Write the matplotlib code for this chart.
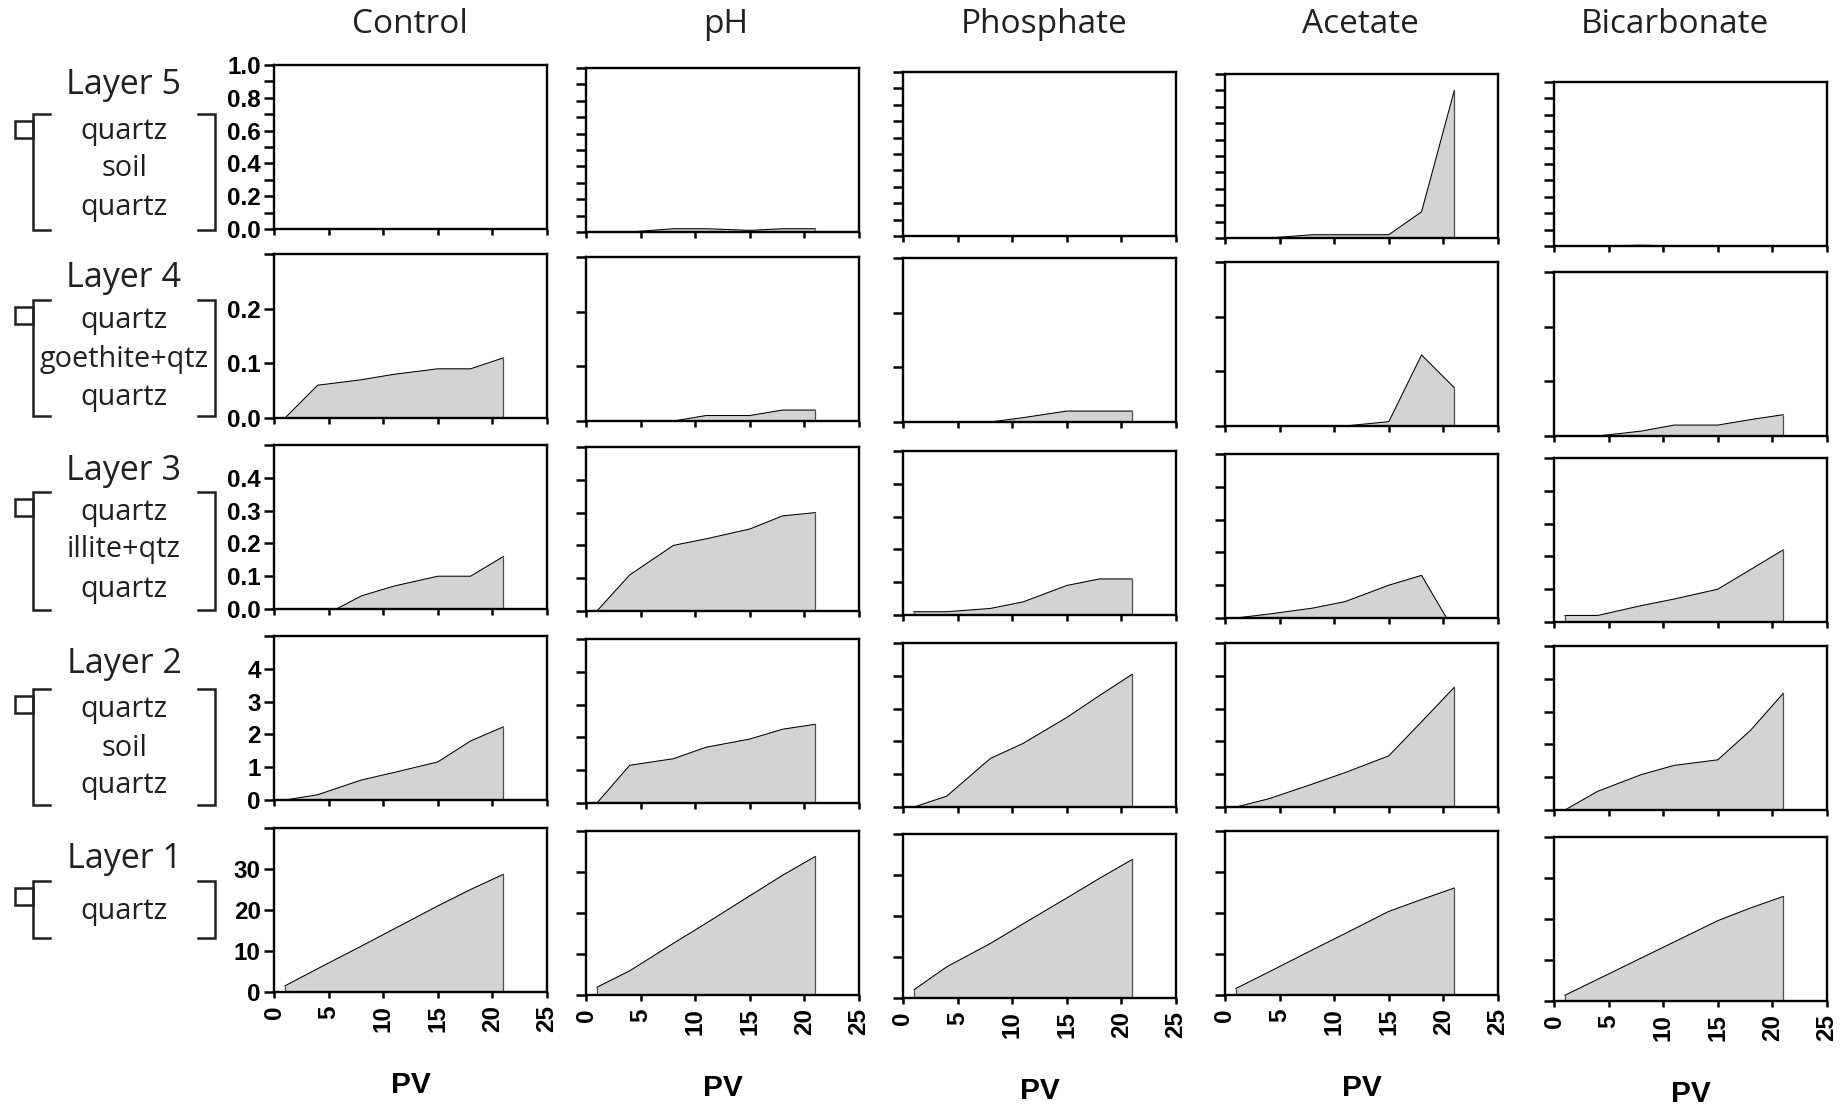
import numpy as np
import matplotlib
matplotlib.use('Agg')
import matplotlib.pyplot as plt
from matplotlib.lines import Line2D
from matplotlib.patches import Rectangle

W, H, DPI = 1846, 1110, 100

# ---------------- data ----------------
treatments = ['Control', 'pH', 'Phosphate', 'Acetate', 'Bicarbonate']
layer_names = ['Layer 5', 'Layer 4', 'Layer 3', 'Layer 2', 'Layer 1']
materials = [['quartz', 'soil', 'quartz'],
             ['quartz', 'goethite+qtz', 'quartz'],
             ['quartz', 'illite+qtz', 'quartz'],
             ['quartz', 'soil', 'quartz'],
             ['quartz']]
pv = [1, 4, 8, 11, 15, 18, 21]

layer5 = {'Control':     [0, 0, 0, 0, 0, 0, 0],
          'pH':          [0, 0, 0.02, 0.02, 0.01, 0.02, 0.02],
          'Phosphate':   [0, 0, 0, 0, 0, 0, 0],
          'Acetate':     [0, 0, 0.02, 0.02, 0.02, 0.16, 0.90],
          'Bicarbonate': [0, 0, 0.005, 0, 0, 0, 0]}
layer4 = {'Control':     [0, 0.06, 0.07, 0.08, 0.09, 0.09, 0.11],
          'pH':          [0, 0, 0, 0.01, 0.01, 0.02, 0.02],
          'Phosphate':   [0, 0, 0, 0.008, 0.02, 0.02, 0.02],
          'Acetate':     [0, 0, 0, 0, 0.008, 0.13, 0.07],
          'Bicarbonate': [0, 0, 0.009, 0.02, 0.02, 0.03, 0.039]}
layer3 = {'Control':     [0, -0.03, 0.04, 0.07, 0.10, 0.10, 0.16],
          'pH':          [0, 0.11, 0.20, 0.22, 0.25, 0.29, 0.30],
          'Phosphate':   [0.01, 0.01, 0.02, 0.04, 0.09, 0.11, 0.11],
          'Acetate':     [0, 0.012, 0.03, 0.05, 0.10, 0.13, -0.04],
          'Bicarbonate': [0.02, 0.02, 0.05, 0.07, 0.10, 0.16, 0.22]}
layer2 = {'Control':     [0, 0.16, 0.61, 0.84, 1.16, 1.8, 2.23],
          'pH':          [0, 1.15, 1.35, 1.7, 1.95, 2.25, 2.4],
          'Phosphate':   [0, 0.33, 1.48, 1.94, 2.73, 3.4, 4.05],
          'Acetate':     [0, 0.25, 0.7, 1.05, 1.56, 2.6, 3.65],
          'Bicarbonate': [0, 0.57, 1.08, 1.36, 1.53, 2.43, 3.56]}
layer1 = {'Control':     [1.5, 5.7, 11.2, 15.4, 21.0, 25.0, 28.7],
          'pH':          [1.9, 5.9, 12.6, 17.5, 24.2, 29.2, 33.8],
          'Phosphate':   [2.0, 7.6, 13.3, 18.1, 24.4, 29.2, 33.8],
          'Acetate':     [1.6, 5.6, 11.0, 15.0, 20.4, 23.3, 26.1],
          'Bicarbonate': [1.4, 5.3, 10.5, 14.4, 19.6, 22.7, 25.5]}
layers_data = [layer5, layer4, layer3, layer2, layer1]

y_ticks = [[0, .1, .2, .3, .4, .5, .6, .7, .8, .9, 1.0],
           [0, .1, .2, .3],
           [0, .1, .2, .3, .4, .5],
           [0, 1, 2, 3, 4, 5],
           [0, 10, 20, 30, 40]]
y_ticklabels = [['0.0', '', '0.2', '', '0.4', '', '0.6', '', '0.8', '', '1.0'],
                ['0.0', '0.1', '0.2', ''],
                ['0.0', '0.1', '0.2', '0.3', '0.4', ''],
                ['0', '1', '2', '3', '4', ''],
                ['0', '10', '20', '30', '']]
x_ticks = [0, 5, 10, 15, 20, 25]
x_ticklabels = ['0', '5', '10', '15', '20', '25']
x_label = 'PV'

# ---------------- layout (pixels) ----------------
col_left = [274, 586, 903, 1225, 1554]
ax_w, ax_h = 273, 164
col_tops = [[65, 254, 445, 636, 828],
            [68, 257, 447, 639, 831],
            [72, 258, 451, 643, 834],
            [74, 262, 454, 643, 831],
            [82, 272, 458, 646, 837]]
title_x = [410, 726, 1044, 1360, 1675]

FILL = '#d1d3d4'
TXT = '#231f20'
serif_font = 'Open Sans'
bold_font = 'Liberation Sans'

fig = plt.figure(figsize=(W / DPI, H / DPI), dpi=DPI)


def fx(x):
    return x / W


def fy(y):
    return 1 - y / H


for c, tr in enumerate(treatments):
    for r in range(5):
        top = col_tops[c][r]
        ax = fig.add_axes([fx(col_left[c]), fy(top + ax_h), ax_w / W, ax_h / H])
        vals = layers_data[r][tr]
        ax.fill_between(pv, vals, 0, facecolor=FILL, edgecolor='none', zorder=1)
        ax.plot(pv, vals, color='black', lw=0.75, zorder=2)
        ax.vlines([pv[0], pv[-1]], 0, [vals[0], vals[-1]], color='#4d4d4d', lw=0.9, zorder=2)
        ax.set_xlim(0, 25)
        ax.set_ylim(0, y_ticks[r][-1])
        ax.set_xticks(x_ticks)
        ax.set_yticks(y_ticks[r])
        if c == 0:
            ax.set_yticklabels(y_ticklabels[r], fontfamily=bold_font,
                               fontweight='bold', fontsize=17.5)
        else:
            ax.set_yticklabels([])
        if r == 4:
            ax.set_xticklabels(x_ticklabels, rotation=90, fontfamily=bold_font,
                               fontweight='bold', fontsize=17.5)
        else:
            ax.set_xticklabels([])
        ax.tick_params(axis='y', direction='out', length=7, width=1.8, pad=2.5, colors='black')
        ax.tick_params(axis='x', direction='out', length=4.5, width=1.8, pad=5, colors='black')
        for s in ax.spines.values():
            s.set_linewidth(1.7)
            s.set_color('black')
            s.set_zorder(3)
    # column title
    fig.text(fx(title_x[c]), fy(33), tr, ha='center', va='baseline',
             fontfamily=serif_font, fontsize=24, color=TXT)
    # PV label
    cx = col_left[c] + ax_w / 2
    fig.text(fx(cx), fy(col_tops[c][4] + ax_h + 93), x_label, ha='center', va='center',
             fontfamily=bold_font, fontweight='bold', fontsize=21.5, color='black')

# ---------------- left-hand layer annotations ----------------
layer_label_y = [85, 278, 471, 664, 859]
mat_y = [[131, 169, 208], [321, 360, 397], [513, 550, 589], [710, 748, 786], [912]]
bracket = [(114, 230), (300, 416), (492, 610), (689, 805), (881, 938)]
lab_x = 124
lw_b = 1.8
for r in range(5):
    fig.text(fx(lab_x), fy(layer_label_y[r]), layer_names[r], ha='center', va='center',
             fontfamily=serif_font, fontsize=24.5, color=TXT)
    for m, yy in zip(materials[r], mat_y[r]):
        fig.text(fx(lab_x), fy(yy), m, ha='center', va='center',
                 fontfamily=serif_font, fontsize=20.8, color=TXT)
    bt, bb = bracket[r]
    # left bracket
    fig.add_artist(Line2D([fx(50), fx(33), fx(33), fx(50)], [fy(bt), fy(bt), fy(bb), fy(bb)],
                          color=TXT, lw=lw_b, solid_joinstyle='miter'))
    # right bracket
    fig.add_artist(Line2D([fx(198), fx(215), fx(215), fx(198)], [fy(bt), fy(bt), fy(bb), fy(bb)],
                          color=TXT, lw=lw_b, solid_joinstyle='miter'))
    # little box on the left
    fig.add_artist(Rectangle((fx(15), fy(bt + 24)), fx(18), (24 - 7) / H, fill=False,
                             edgecolor=TXT, lw=lw_b))

fig.savefig('out.png', dpi=DPI)
